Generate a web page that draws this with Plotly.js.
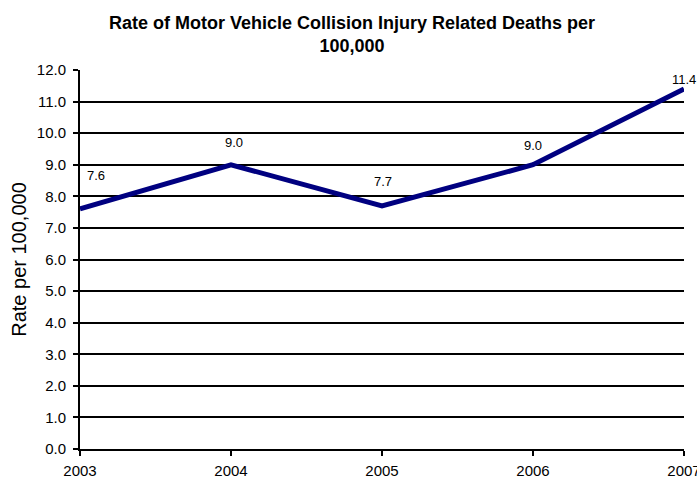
<!DOCTYPE html>
<html>
<head>
<meta charset="utf-8">
<script src="https://cdn.plot.ly/plotly-3.0.1.min.js"></script>
<style>html,body{margin:0;padding:0;background:#fff;}#chart{width:697px;height:478px;}</style>
</head>
<body>
<div id="chart"></div>
<script>
// Data
var years = [2003, 2004, 2005, 2006, 2007];
var rates = [7.6, 9.0, 7.7, 9.0, 11.4];
var rateLabels = ['7.6', '9.0', '7.7', '9.0', '11.4'];
var yTicks = [0,1,2,3,4,5,6,7,8,9,10,11,12];

// label placement (style only)
var labelDx = [16, 3, 1, 0, 0];
var labelDy = [33, 22, 24, 19, 9];

var FONT = 'Liberation Sans, Arial, sans-serif';

var annotations = years.map(function(yr, i){
  return {
    x: yr, y: rates[i], xref: 'x', yref: 'y',
    text: rateLabels[i], showarrow: false,
    xshift: labelDx[i], yshift: labelDy[i],
    font: {family: FONT, size: 13, color: '#000'}
  };
});

var trace = {
  x: years, y: rates, type: 'scatter', mode: 'lines',
  line: {color: '#000080', width: 5},
  cliponaxis: false, hoverinfo: 'skip'
};

var layout = {
  width: 697, height: 478,
  margin: {l: 80, r: 13, t: 70, b: 29, pad: 0},
  paper_bgcolor: '#fff', plot_bgcolor: '#fff',
  showlegend: false,
  font: {family: FONT, color: '#000', size: 15},
  title: {
    text: '<b>Rate of Motor Vehicle Collision Injury Related Deaths per<br>100,000</b>',
    x: 0.505, xref: 'container', xanchor: 'center', y: 1 - 29/478, yref: 'container', yanchor: 'top',
    font: {family: FONT, size: 18, color: '#000'}
  },
  xaxis: {
    range: [2003, 2007], tickvals: years, ticktext: years.map(String),
    showgrid: false, zeroline: false,
    showline: true, linecolor: '#000', linewidth: 2,
    ticks: 'outside', ticklen: 5, tickcolor: '#000', tickwidth: 2,
    ticklabeloverflow: 'allow', ticklabelstandoff: 2,
    tickfont: {size: 15, color: '#000'}
  },
  yaxis: {
    range: [0, 12], tickvals: yTicks, tickformat: '.1f',
    showgrid: true, gridcolor: '#000', gridwidth: 2,
    zeroline: false,
    showline: true, linecolor: '#000', linewidth: 2,
    ticks: 'outside', ticklen: 5, tickcolor: '#000', tickwidth: 2,
    ticklabelstandoff: 4,
    tickfont: {size: 15, color: '#000'},
    title: {text: 'Rate per 100,000', font: {size: 20, color: '#000'}, standoff: 5}
  },
  annotations: annotations
};

Plotly.newPlot('chart', [trace], layout, {displayModeBar: false, staticPlot: true});
</script>
</body>
</html>
